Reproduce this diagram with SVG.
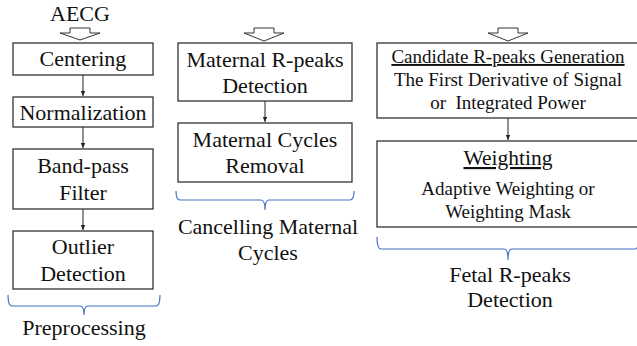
<svg xmlns="http://www.w3.org/2000/svg" width="637" height="346" viewBox="0 0 637 346">
<defs>
<style>
.box{fill:#fff;stroke:#333;stroke-width:1.3}
.t{font-family:"Liberation Serif","Times New Roman",serif;font-size:22px;fill:#111;text-anchor:middle}
.s{font-family:"Liberation Serif","Times New Roman",serif;font-size:19px;fill:#111;text-anchor:middle}
.h{font-family:"Liberation Serif","Times New Roman",serif;font-size:21.5px;fill:#111;text-anchor:middle}
.u{text-decoration:underline}
.con{stroke:#222;stroke-width:1;fill:none}
.hollow{fill:#fff;stroke:#333;stroke-width:1}
.brace{fill:none;stroke:#4472C4;stroke-width:1.2}
</style>
<marker id="ah" markerWidth="6" markerHeight="6" refX="5" refY="3" orient="auto" markerUnits="userSpaceOnUse">
<path d="M0,0.8 L5,3 L0,5.2 Z" fill="#222"/>
</marker>
</defs>
<rect width="637" height="346" fill="#fff"/>

<g id="input-label"><text class="t" x="80" y="21">AECG</text></g>

<g id="connectors">
<polygon class="hollow" points="70,28 90,28 90,33 100,33 80,40 60,33 70,33"/>
<polygon class="hollow" points="254,28 274,28 274,33 284,33 264,41 244,33 254,33"/>
<polygon class="hollow" points="498,28 518,28 518,33 528,33 508,41 488,33 498,33"/>
<line class="con" x1="83" y1="75" x2="83" y2="96" marker-end="url(#ah)"/>
<line class="con" x1="83" y1="127" x2="83" y2="148" marker-end="url(#ah)"/>
<line class="con" x1="83" y1="209" x2="83" y2="230" marker-end="url(#ah)"/>
<line class="con" x1="265" y1="101" x2="265" y2="122" marker-end="url(#ah)"/>
<line class="con" x1="508" y1="118" x2="508" y2="140" marker-end="url(#ah)"/>
</g>

<g id="centering"><rect class="box" x="13" y="43" width="140" height="32"/><text class="t" x="83" y="66">Centering</text></g>
<g id="normalization"><rect class="box" x="13" y="97" width="140" height="30"/><text class="t" x="83" y="120">Normalization</text></g>
<g id="bandpass"><rect class="box" x="13" y="149" width="140" height="60"/><text class="t" x="83" y="173">Band-pass</text><text class="t" x="83" y="200">Filter</text></g>
<g id="outlier"><rect class="box" x="13" y="231" width="140" height="58"/><text class="t" x="83" y="254">Outlier</text><text class="t" x="83" y="281">Detection</text></g>

<g id="maternal-detection"><rect class="box" x="178" y="43" width="174" height="58"/><text class="t" x="265" y="67">Maternal R-peaks</text><text class="t" x="265" y="93">Detection</text></g>
<g id="maternal-removal"><rect class="box" x="178" y="123" width="174" height="59"/><text class="t" x="265" y="147">Maternal Cycles</text><text class="t" x="265" y="173">Removal</text></g>

<g id="candidate"><rect class="box" x="377" y="43" width="262" height="75"/><text class="s u" x="508" y="63">Candidate R-peaks Generation</text><text class="s" x="508" y="86">The First Derivative of Signal</text><text class="s" x="508" y="109" xml:space="preserve">or  Integrated Power</text></g>
<g id="weighting"><rect class="box" x="377" y="141" width="262" height="86"/><text class="h u" x="508" y="165">Weighting</text><text class="s" x="508" y="195">Adaptive Weighting or</text><text class="s" x="508" y="218">Weighting Mask</text></g>

<g id="preprocessing"><path class="brace" d="M8,295 Q8,306 12,306 L80,306 Q84,306 84,315 Q84,306 88,306 L156,306 Q160,306 160,295"/><text class="t" x="84" y="335">Preprocessing</text></g>
<g id="cancelling"><path class="brace" d="M176,191 Q176,200 180,200 L261,200 Q265,200 265,210 Q265,200 269,200 L350,200 Q354,200 354,191"/><text class="t" x="268" y="234">Cancelling Maternal</text><text class="t" x="268" y="260">Cycles</text></g>
<g id="fetal"><path class="brace" d="M377,237 Q377,249 381,249 L504,249 Q508,249 508,260 Q508,249 512,249 L635,249 Q639,249 639,237"/><text class="t" x="510" y="282">Fetal R-peaks</text><text class="t" x="510" y="307">Detection</text></g>
</svg>
